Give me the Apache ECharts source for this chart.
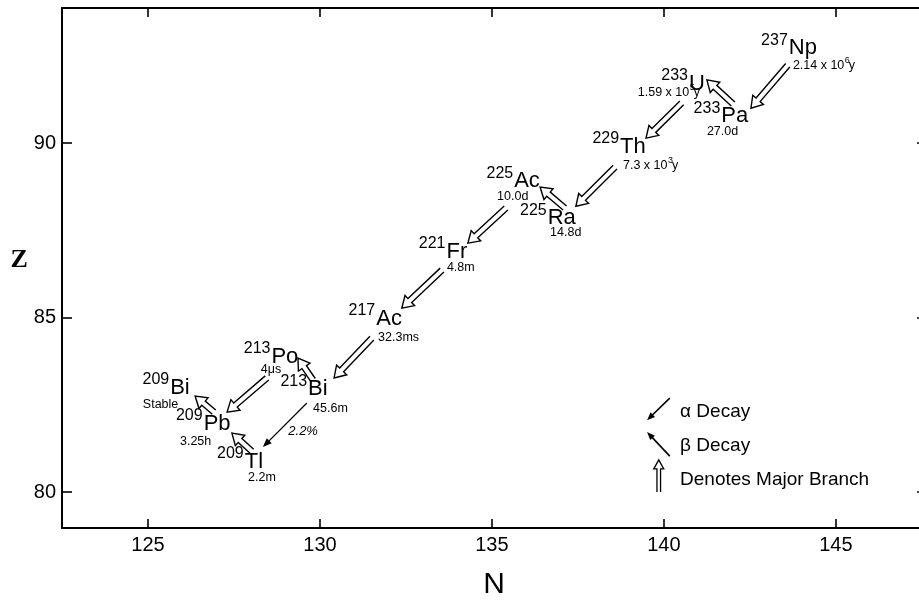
<!DOCTYPE html>
<html>
<head>
<meta charset="utf-8">
<script src="https://cdn.jsdelivr.net/npm/echarts@6/dist/echarts.min.js"></script>
<style>html,body{margin:0;padding:0;background:#fff}#chart{width:919px;height:603px}</style>
</head>
<body>
<div id="chart"></div>
<script>
// ---------- data ----------
const xTicks = [125, 130, 135, 140, 145];
const yTicks = [80, 85, 90];

const massNumbers = ['237','233','233','229','225','225','221','217','213','213','209','209','209'];
const elements    = ['Np','U','Pa','Th','Ac','Ra','Fr','Ac','Po','Bi','Bi','Pb','Tl'];
const labelN = [144.04,140.96,142.06,139.10,136.02,137.03,133.98,132.01,128.98,129.94,125.93,127.01,128.08];
const labelZ = [92.72,91.69,90.77,89.89,88.91,87.85,86.88,84.96,83.87,82.95,82.98,81.95,80.86];

const halfLives = [['2.14 x 10','6','y'],['1.59 x 10','5','y'],['27.0d'],['7.3 x 10','3','y'],['10.0d'],['14.8d'],['4.8m'],['32.3ms'],['4\u03bcs'],['45.6m'],['Stable'],['3.25h'],['2.2m']];
const halfLifeN = [143.75,139.24,141.25,138.81,135.15,136.69,133.69,131.69,128.28,129.80,124.85,125.93,127.91];
const halfLifeZ = [92.21,91.46,90.32,89.37,88.48,87.45,86.42,84.44,83.50,82.38,82.52,81.46,80.43];

// decay arrows: tail (from) -> tip (to)
const arrowFromN = [143.60,142.01,140.52,138.58,137.12,135.41,133.55,131.51,129.80,128.46,129.62,128.02,126.92];
const arrowFromZ = [92.23,91.12,91.15,89.31,88.14,88.14,86.36,84.41,83.21,83.27,82.55,81.17,82.29];
const arrowToN   = [142.53,141.25,139.48,137.44,136.40,134.30,132.38,130.41,129.36,127.30,128.34,127.44,126.37];
const arrowToZ   = [91.00,91.81,90.14,88.19,88.74,87.13,85.27,83.27,83.84,82.29,81.29,81.69,82.75];
const arrowMajor = [1,1,1,1,1,1,1,1,1,1,0,1,1];

const noteText = ['2.2%'];
const noteN = [129.51];
const noteZ = [81.75];

// legend
const legendArrowFromN = [140.17,140.17,139.85];
const legendArrowFromZ = [82.69,81.03,80.00];
const legendArrowToN   = [139.51,139.51,139.85];
const legendArrowToZ   = [82.06,81.72,80.92];
const legendArrowMajor = [0,0,1];
const legendText = ['\u03b1 Decay','\u03b2 Decay','Denotes Major Branch'];
const legendTextN = [140.47,140.47,140.47];
const legendTextZ = [82.29,81.32,80.34];

// ---------- helpers ----------
const FAM = '"Liberation Sans", Arial, sans-serif';
const SYM_FONT = '22px ' + FAM;
const MASS_FONT = '16px ' + FAM;
const HL_FONT = '12.5px ' + FAM;
const EXP_FONT = '9px ' + FAM;
const LEG_FONT = '19px ' + FAM;
const NOTE_FONT = 'italic 13px ' + FAM;

const mctx = document.createElement('canvas').getContext('2d');
function tw(t, f) { mctx.font = f; return mctx.measureText(t).width; }

function txt(x, y, text, font, align, valign) {
  return {type: 'text', x: x, y: y, style: {text: text, font: font, fill: '#000',
    textAlign: align, textVerticalAlign: valign, align: align, verticalAlign: valign}};
}

function hollowArrow(p0, p1, sh, hh, hl, lw) {
  const dx = p1[0] - p0[0], dy = p1[1] - p0[1], L = Math.hypot(dx, dy);
  const ux = dx / L, uy = dy / L, vx = -uy, vy = ux;
  const nx = p1[0] - ux * hl, ny = p1[1] - uy * hl;
  const pts = [
    [p0[0] + vx * sh, p0[1] + vy * sh], [nx + vx * sh, ny + vy * sh], [nx + vx * hh, ny + vy * hh],
    [p1[0], p1[1]],
    [nx - vx * hh, ny - vy * hh], [nx - vx * sh, ny - vy * sh], [p0[0] - vx * sh, p0[1] - vy * sh]
  ];
  return {type: 'polyline', shape: {points: pts}, style: {stroke: '#000', lineWidth: lw, fill: null, lineJoin: 'miter'}};
}

function thinArrow(p0, p1, hl, hw, lw) {
  const dx = p1[0] - p0[0], dy = p1[1] - p0[1], L = Math.hypot(dx, dy);
  const ux = dx / L, uy = dy / L, vx = -uy, vy = ux;
  const nx = p1[0] - ux * hl, ny = p1[1] - uy * hl;
  return {type: 'group', children: [
    {type: 'line', shape: {x1: p0[0], y1: p0[1], x2: nx + ux * 2, y2: ny + uy * 2}, style: {stroke: '#000', lineWidth: lw}},
    {type: 'polygon', shape: {points: [[p1[0], p1[1]], [nx + vx * hw, ny + vy * hw], [nx - vx * hw, ny - vy * hw]]}, style: {fill: '#000'}}
  ]};
}

function arrowRender(major, params, api) {
  const p0 = api.coord([api.value(0), api.value(1)]);
  const p1 = api.coord([api.value(2), api.value(3)]);
  return major[params.dataIndex] ? hollowArrow(p0, p1, 2.7, 7, 11, 1.4) : thinArrow(p0, p1, 9, 3.5, 1.3);
}

// ---------- chart ----------
const chart = echarts.init(document.getElementById('chart'), null, {renderer: 'canvas'});

const axisLineStyle = {color: '#000', width: 2};
const tickStyle = {color: '#000', width: 1.6};

const option = {
  animation: false,
  backgroundColor: '#fff',
  grid: {left: 62, width: 864, top: 8, height: 520, containLabel: false, outerBoundsMode: 'none'},
  xAxis: [
    {type: 'value', min: 122.5, max: 147.62, position: 'bottom',
     axisLine: {show: true, onZero: false, lineStyle: axisLineStyle},
     axisTick: {show: true, inside: true, length: 9, customValues: xTicks, lineStyle: tickStyle},
     axisLabel: {show: true, customValues: xTicks, margin: 7, color: '#000', fontSize: 20, fontFamily: FAM},
     splitLine: {show: false},
     name: 'N', nameLocation: 'middle', nameGap: 42,
     nameTextStyle: {color: '#000', fontSize: 30, fontFamily: FAM}},
    {type: 'value', min: 122.5, max: 147.62, position: 'top',
     axisLine: {show: true, onZero: false, lineStyle: axisLineStyle},
     axisTick: {show: true, inside: true, length: 9, customValues: xTicks, lineStyle: tickStyle},
     axisLabel: {show: false}, splitLine: {show: false}}
  ],
  yAxis: [
    {type: 'value', min: 78.97, max: 93.87, position: 'left',
     axisLine: {show: true, onZero: false, lineStyle: axisLineStyle},
     axisTick: {show: true, inside: true, length: 10, customValues: yTicks, lineStyle: tickStyle},
     axisLabel: {show: true, customValues: yTicks, margin: 6, color: '#000', fontSize: 20, fontFamily: FAM},
     splitLine: {show: false},
     name: 'Z', nameLocation: 'middle', nameGap: 34, nameRotate: 0,
     nameTextStyle: {color: '#000', fontSize: 26, fontWeight: 'bold', fontFamily: '"Liberation Serif", "DejaVu Serif", serif', verticalAlign: 'bottom', lineHeight: 16}},
    {type: 'value', min: 78.97, max: 93.87, position: 'right',
     axisLine: {show: true, onZero: false, lineStyle: axisLineStyle},
     axisTick: {show: true, inside: true, length: 9, customValues: yTicks, lineStyle: tickStyle},
     axisLabel: {show: false}, splitLine: {show: false}}
  ],
  series: [
    {
      name: 'decays', type: 'custom', coordinateSystem: 'cartesian2d', silent: true,
      data: arrowFromN.map((v, i) => [v, arrowFromZ[i], arrowToN[i], arrowToZ[i]]),
      encode: {x: [0, 2], y: [1, 3]},
      renderItem: (params, api) => arrowRender(arrowMajor, params, api)
    },
    {
      name: 'nuclides', type: 'custom', coordinateSystem: 'cartesian2d', silent: true,
      data: labelN.map((v, i) => [v, labelZ[i]]),
      encode: {x: 0, y: 1},
      renderItem: (params, api) => {
        const i = params.dataIndex;
        const p = api.coord([api.value(0), api.value(1)]);
        const w = tw(elements[i], SYM_FONT);
        return {type: 'group', children: [
          txt(p[0], p[1], elements[i], SYM_FONT, 'center', 'middle'),
          txt(p[0] - w / 2 - 1, p[1] - 8, massNumbers[i], MASS_FONT, 'right', 'middle')
        ]};
      }
    },
    {
      name: 'halfLives', type: 'custom', coordinateSystem: 'cartesian2d', silent: true,
      data: halfLifeN.map((v, i) => [v, halfLifeZ[i]]),
      encode: {x: 0, y: 1},
      renderItem: (params, api) => {
        const parts = halfLives[params.dataIndex];
        const p = api.coord([api.value(0), api.value(1)]);
        const els = [];
        let cx = p[0];
        els.push(txt(cx, p[1], parts[0], HL_FONT, 'left', 'middle'));
        cx += tw(parts[0], HL_FONT);
        if (parts.length > 1) {
          els.push(txt(cx + 0.5, p[1] - 5, parts[1], EXP_FONT, 'left', 'middle'));
          cx += tw(parts[1], EXP_FONT) - 0.5;
          els.push(txt(cx, p[1], parts[2], HL_FONT, 'left', 'middle'));
        }
        return {type: 'group', children: els};
      }
    },
    {
      name: 'notes', type: 'custom', coordinateSystem: 'cartesian2d', silent: true,
      data: noteN.map((v, i) => [v, noteZ[i]]),
      encode: {x: 0, y: 1},
      renderItem: (params, api) => {
        const p = api.coord([api.value(0), api.value(1)]);
        return txt(p[0], p[1], noteText[params.dataIndex], NOTE_FONT, 'center', 'middle');
      }
    },
    {
      name: 'legendArrows', type: 'custom', coordinateSystem: 'cartesian2d', silent: true,
      data: legendArrowFromN.map((v, i) => [v, legendArrowFromZ[i], legendArrowToN[i], legendArrowToZ[i]]),
      encode: {x: [0, 2], y: [1, 3]},
      renderItem: (params, api) => {
        const p0 = api.coord([api.value(0), api.value(1)]);
        const p1 = api.coord([api.value(2), api.value(3)]);
        return legendArrowMajor[params.dataIndex] ? hollowArrow(p0, p1, 1.8, 5, 9, 1.3) : thinArrow(p0, p1, 8, 3.2, 1.6);
      }
    },
    {
      name: 'legendText', type: 'custom', coordinateSystem: 'cartesian2d', silent: true,
      data: legendTextN.map((v, i) => [v, legendTextZ[i]]),
      encode: {x: 0, y: 1},
      renderItem: (params, api) => {
        const p = api.coord([api.value(0), api.value(1)]);
        return txt(p[0], p[1], legendText[params.dataIndex], LEG_FONT, 'left', 'middle');
      }
    }
  ]
};

chart.setOption(option);
</script>
</body>
</html>
